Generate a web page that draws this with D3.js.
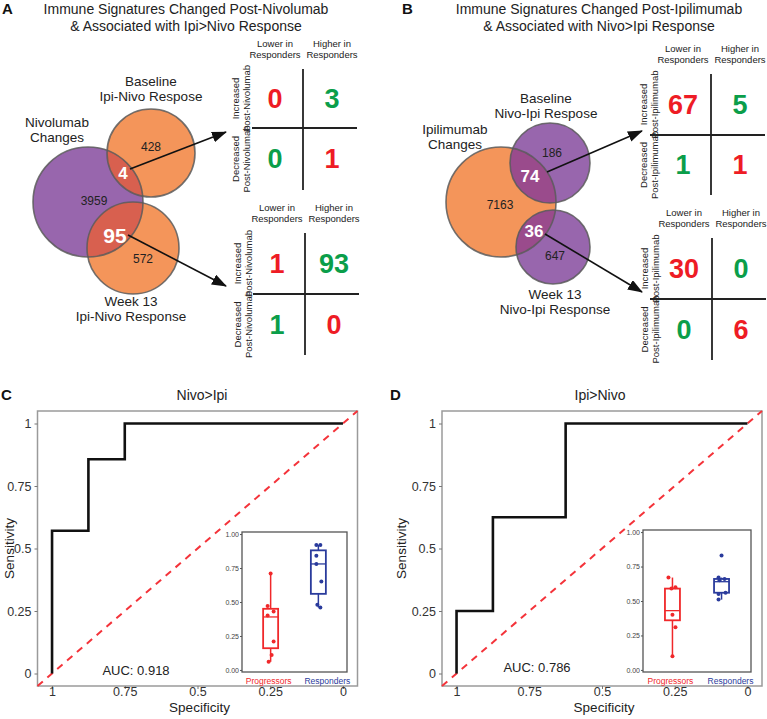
<!DOCTYPE html>
<html>
<head>
<meta charset="utf-8">
<script src="https://cdn.jsdelivr.net/npm/d3@7"></script>
<style>
  body { margin: 0; background: #fff; }
  svg { font-family: "Liberation Sans", Arial, sans-serif; }
</style>
</head>
<body>
<div id="chart"></div>
<script>
// ---------- data ----------
const titleA = ["Immune Signatures Changed Post-Nivolumab", "& Associated with Ipi>Nivo Response"];
const titleB = ["Immune Signatures Changed Post-Ipilimumab", "& Associated with Nivo>Ipi Response"];
const setNamesA = [["Nivolumab", "Changes"], ["Baseline", "Ipi-Nivo Respose"], ["Week 13", "Ipi-Nivo Response"]];
const setNamesB = [["Ipilimumab", "Changes"], ["Baseline", "Nivo-Ipi Respose"], ["Week 13", "Nivo-Ipi Response"]];
// main only, baseline only, baseline overlap, week13 only, week13 overlap
const countsA = [3959, 428, 4, 572, 95];
const countsB = [7163, 186, 74, 647, 36];

const colHeads = [["Lower in", "Responders"], ["Higher in", "Responders"]];
const rowHeadsA = [["Increased", "Post-Nivolumab"], ["Decreased", "Post-Nivolumab"]];
const rowHeadsB = [["Increased", "Post-Ipilimumab"], ["Decreased", "Post-Ipilimumab"]];
const tableA1 = [[0, 3], [0, 1]];
const tableA2 = [[1, 93], [1, 0]];
const tableB1 = [[67, 5], [1, 1]];
const tableB2 = [[30, 0], [0, 6]];

const rocTicks = [1, 0.75, 0.5, 0.25, 0];
const rocSpecC = [1, 1, 0.875, 0.875, 0.75, 0.75, 0];
const rocSensC = [0, 0.571, 0.571, 0.857, 0.857, 1, 1];
const rocSpecD = [1, 1, 0.875, 0.875, 0.625, 0.625, 0];
const rocSensD = [0, 0.25, 0.25, 0.625, 0.625, 1, 1];
const aucC = 0.918, aucD = 0.786;

const groups = ["Progressors", "Responders"];
const insetTicks = [0, 0.25, 0.5, 0.75, 1];
const progC = [0.71, 0.47, 0.43, 0.40, 0.21, 0.11, 0.06];
const respC = [0.92, 0.92, 0.84, 0.78, 0.65, 0.48, 0.46];
const progD = [0.67, 0.60, 0.59, 0.40, 0.31, 0.10];
const respD = [0.83, 0.67, 0.66, 0.65, 0.56, 0.55, 0.51];
// whisker low, q1, median, q3, whisker high
const boxProgC = [0.06, 0.16, 0.39, 0.45, 0.71];
const boxRespC = [0.46, 0.56, 0.78, 0.88, 0.92];
const boxProgD = [0.10, 0.36, 0.43, 0.59, 0.67];
const boxRespD = [0.51, 0.56, 0.64, 0.66, 0.67];

// ---------- setup ----------
const width = 767, height = 719;
const svg = d3.select("#chart").append("svg")
  .attr("width", width).attr("height", height)
  .attr("viewBox", [0, 0, width, height]);

const red = "#ee1c25", green = "#0b9e4a";
const boxRed = "#f0282a", boxBlue = "#2a3b9c";

svg.append("defs").append("marker")
  .attr("id", "arrow")
  .attr("markerUnits", "userSpaceOnUse")
  .attr("markerWidth", 15).attr("markerHeight", 11)
  .attr("refX", 14).attr("refY", 5.5)
  .attr("orient", "auto")
  .append("path").attr("d", "M0,0L15,5.5L0,11z").attr("fill", "#111");

function panelLetter(txt, x, y) {
  svg.append("text").attr("x", x).attr("y", y)
    .attr("font-size", 15).attr("font-weight", "bold").attr("fill", "#111")
    .text(txt);
}

function lines(g, arr, x, y, dy, size, anchor) {
  const t = g.append("text").attr("x", x).attr("y", y)
    .attr("font-size", size).attr("text-anchor", anchor || "middle").attr("fill", "#222");
  arr.forEach((s, i) => t.append("tspan").attr("x", x).attr("dy", i ? dy : 0).text(s));
  return t;
}

// ---------- venn ----------
function venn(cfg) {
  const g = svg.append("g");
  const [m, t, b] = cfg.circles;
  [t, b].forEach((c, i) => {
    svg.select("defs").append("clipPath").attr("id", cfg.id + "clip" + i)
      .append("circle").attr("cx", c.x).attr("cy", c.y).attr("r", c.r);
  });
  g.append("circle").attr("cx", m.x).attr("cy", m.y).attr("r", m.r).attr("fill", cfg.mainColor);
  g.selectAll(".small").data([t, b]).join("circle")
    .attr("cx", d => d.x).attr("cy", d => d.y).attr("r", d => d.r).attr("fill", cfg.smallColor);
  [0, 1].forEach(i => {
    g.append("circle").attr("cx", m.x).attr("cy", m.y).attr("r", m.r)
      .attr("fill", cfg.overlapColor).attr("clip-path", `url(#${cfg.id}clip${i})`);
  });
  g.selectAll(".ring").data([m, t, b]).join("circle")
    .attr("cx", d => d.x).attr("cy", d => d.y).attr("r", d => d.r)
    .attr("fill", "none").attr("stroke", "#5a5a5a").attr("stroke-opacity", 0.85).attr("stroke-width", 1.6);

  cfg.names.forEach((n, i) => lines(g, n, cfg.namePos[i][0], cfg.namePos[i][1], 15, 13.5));

  cfg.counts.forEach((v, i) => {
    const p = cfg.countPos[i];
    const big = i === 2 || i === 4;
    g.append("text").attr("x", p[0]).attr("y", p[1])
      .attr("text-anchor", "middle").attr("dominant-baseline", "central")
      .attr("font-size", big ? p[2] : 12)
      .attr("font-weight", big ? "bold" : "normal")
      .attr("fill", big ? "#fff" : "#222")
      .text(v);
  });

  cfg.arrows.forEach(a => {
    g.append("line").attr("x1", a[0]).attr("y1", a[1]).attr("x2", a[2]).attr("y2", a[3])
      .attr("stroke", "#111").attr("stroke-width", 1.6).attr("marker-end", "url(#arrow)");
  });
}

// ---------- 2x2 table ----------
function table(cfg) {
  const g = svg.append("g");
  const rows = [(cfg.top + cfg.mid) / 2, (cfg.mid + cfg.bottom) / 2];
  const cols = [cfg.vx - 28, cfg.vx + 29];
  g.append("line").attr("x1", cfg.vx).attr("x2", cfg.vx).attr("y1", cfg.top).attr("y2", cfg.bottom)
    .attr("stroke", "#222").attr("stroke-width", 1.8);
  g.append("line").attr("x1", cfg.left).attr("x2", cfg.vx + 54).attr("y1", cfg.mid).attr("y2", cfg.mid)
    .attr("stroke", "#222").attr("stroke-width", 1.8);
  colHeads.forEach((h, j) => lines(g, h, cols[j], cfg.top - 22, 11, 9.5));
  cfg.rowHeads.forEach((h, i) => {
    const t = g.append("text").attr("transform", `translate(${cfg.vx - 67},${rows[i]}) rotate(-90)`)
      .attr("font-size", 9.5).attr("text-anchor", "middle").attr("fill", "#222");
    h.forEach((s, k) => t.append("tspan").attr("x", 0).attr("y", k * 10.5 + 3).text(s));
  });
  cfg.values.forEach((r, i) => r.forEach((v, j) => {
    g.append("text").attr("x", cols[j]).attr("y", rows[i])
      .attr("text-anchor", "middle").attr("dominant-baseline", "central")
      .attr("font-size", 27).attr("font-weight", "bold")
      .attr("fill", (i + j) % 2 === 1 ? green : red)
      .text(v);
  }));
}

// ---------- ROC ----------
function roc(cfg) {
  const g = svg.append("g");
  const x = d3.scaleLinear().domain([1.05, -0.05]).range([cfg.left, cfg.right]);
  const y = d3.scaleLinear().domain([-0.05, 1.05]).range([cfg.bottom, cfg.top]);

  g.append("rect").attr("x", cfg.left).attr("y", cfg.top)
    .attr("width", cfg.right - cfg.left).attr("height", cfg.bottom - cfg.top)
    .attr("fill", "none").attr("stroke", "#9a9a9a").attr("stroke-width", 1.5);

  const xAxis = g.append("g").attr("transform", `translate(0,${cfg.bottom})`)
    .call(d3.axisBottom(x).tickValues(rocTicks).tickSize(3).tickFormat(d3.format("")));
  const yAxis = g.append("g").attr("transform", `translate(${cfg.left},0)`)
    .call(d3.axisLeft(y).tickValues(rocTicks).tickSize(3).tickFormat(d3.format("")));
  [xAxis, yAxis].forEach(a => {
    a.select(".domain").remove();
    a.selectAll(".tick line").attr("stroke", "#777");
    a.selectAll(".tick text").attr("font-size", 12.5).attr("fill", "#333");
  });
  xAxis.selectAll(".tick text").attr("y", 10).attr("dy", 0);

  g.append("text").attr("x", (cfg.left + cfg.right) / 2 + 2).attr("y", cfg.bottom + 26)
    .attr("text-anchor", "middle").attr("font-size", 13.5).attr("fill", "#222").text("Specificity");
  g.append("text")
    .attr("transform", `translate(${cfg.ylabX},${(cfg.top + cfg.bottom) / 2}) rotate(-90)`)
    .attr("text-anchor", "middle").attr("font-size", 13.5).attr("fill", "#222").text("Sensitivity");
  g.append("text").attr("x", cfg.titleX).attr("y", cfg.top - 11)
    .attr("text-anchor", "middle").attr("font-size", 14).attr("fill", "#222").text(cfg.title);

  g.append("line")
    .attr("x1", x(1.05)).attr("y1", y(-0.05)).attr("x2", x(-0.05)).attr("y2", y(1.05))
    .attr("stroke", "#f4333a").attr("stroke-width", 2).attr("stroke-dasharray", "7,6");

  const pts = cfg.spec.map((s, i) => [s, cfg.sens[i]]);
  g.append("path").datum(pts)
    .attr("d", d3.line().x(d => x(d[0])).y(d => y(d[1])))
    .attr("fill", "none").attr("stroke", "#111").attr("stroke-width", 2.6);

  g.append("text").attr("x", cfg.aucX).attr("y", cfg.aucY)
    .attr("text-anchor", "middle").attr("font-size", 13).attr("fill", "#222")
    .text("AUC: " + cfg.auc);

  inset(cfg.inset);
}

function inset(cfg) {
  const g = svg.append("g");
  const x = d3.scalePoint().domain(groups).range([cfg.left, cfg.right]).padding(0.6);
  const y = d3.scaleLinear().domain([-0.015, 1.015]).range([cfg.bottom, cfg.top]);
  g.append("rect").attr("x", cfg.left).attr("y", cfg.top)
    .attr("width", cfg.right - cfg.left).attr("height", cfg.bottom - cfg.top)
    .attr("fill", "#fff").attr("stroke", "#555").attr("stroke-width", 1.3);
  const ya = g.append("g").attr("transform", `translate(${cfg.left},0)`)
    .call(d3.axisLeft(y).tickValues(insetTicks).tickSize(2).tickFormat(d3.format(".2f")));
  ya.select(".domain").remove();
  ya.selectAll(".tick line").attr("stroke", "#555");
  ya.selectAll(".tick text").attr("font-size", 7).attr("fill", "#444").attr("x", -3);

  const colors = [boxRed, boxBlue];
  const labelShift = [-2, 9];
  const bw = 15;
  cfg.boxes.forEach((b, i) => {
    const cx = x(groups[i]);
    const c = colors[i];
    g.append("line").attr("x1", cx).attr("x2", cx).attr("y1", y(b[0])).attr("y2", y(b[1]))
      .attr("stroke", c).attr("stroke-width", 1.5);
    g.append("line").attr("x1", cx).attr("x2", cx).attr("y1", y(b[3])).attr("y2", y(b[4]))
      .attr("stroke", c).attr("stroke-width", 1.5);
    g.append("rect").attr("x", cx - bw / 2).attr("y", y(b[3]))
      .attr("width", bw).attr("height", y(b[1]) - y(b[3]))
      .attr("fill", "#fff").attr("stroke", c).attr("stroke-width", 1.8);
    g.append("line").attr("x1", cx - bw / 2).attr("x2", cx + bw / 2).attr("y1", y(b[2])).attr("y2", y(b[2]))
      .attr("stroke", c).attr("stroke-width", 1.3);
    g.selectAll(null).data(cfg.points[i]).join("circle")
      .attr("cx", (d, k) => cx + cfg.jitter[i][k])
      .attr("cy", d => y(d))
      .attr("r", 2)
      .attr("fill", c);
    g.append("text").attr("x", cx + labelShift[i]).attr("y", cfg.bottom + 12)
      .attr("text-anchor", "middle").attr("font-size", 8.5).attr("fill", c).text(groups[i]);
  });
}

// ---------- panel A ----------
panelLetter("A", 2, 14);
lines(svg, titleA, 186, 14, 17, 14);
venn({
  id: "a",
  circles: [{ x: 88, y: 202, r: 55 }, { x: 151, y: 153, r: 44 }, { x: 133, y: 248, r: 46 }],
  mainColor: "#9866ad", smallColor: "#f4955a", overlapColor: "#d8604f",
  names: setNamesA,
  namePos: [[57, 127], [151, 86], [131, 306]],
  counts: countsA,
  countPos: [[94, 201], [151, 147], [123, 173, 17], [143, 259], [115, 235, 21]],
  arrows: [[130, 169, 226, 132], [128, 235, 226, 286]]
});
table({ vx: 303, top: 69, mid: 128, bottom: 190, left: 252, rowHeads: rowHeadsA, values: tableA1 });
table({ vx: 305, top: 233, mid: 294, bottom: 355, left: 253, rowHeads: rowHeadsA, values: tableA2 });

// ---------- panel B ----------
panelLetter("B", 402, 14);
lines(svg, titleB, 599, 14, 17, 14);
venn({
  id: "b",
  circles: [{ x: 501, y: 202, r: 55 }, { x: 550, y: 163, r: 40 }, { x: 553, y: 247, r: 37 }],
  mainColor: "#f4955a", smallColor: "#9866ad", overlapColor: "#9a4b8c",
  names: setNamesB,
  namePos: [[455, 134], [546, 103], [555, 299]],
  counts: countsB,
  countPos: [[500, 205], [552, 153], [530, 176, 17], [555, 256], [534, 231, 17]],
  arrows: [[547, 172, 642, 131], [545, 234, 642, 292]]
});
table({ vx: 711, top: 74, mid: 135, bottom: 195, left: 650, rowHeads: rowHeadsB, values: tableB1 });
table({ vx: 712, top: 238, mid: 299, bottom: 360, left: 650, rowHeads: rowHeadsB, values: tableB2 });

// ---------- panels C, D ----------
panelLetter("C", 1, 400);
roc({
  left: 37.5, right: 357.5, top: 411, bottom: 686, ylabX: 14, titleX: 202,
  title: "Nivo>Ipi", spec: rocSpecC, sens: rocSensC, auc: aucC, aucX: 136, aucY: 675,
  inset: {
    left: 242, right: 347, top: 532, bottom: 672,
    points: [progC, respC], boxes: [boxProgC, boxRespC],
    jitter: [[0, -3, 3, -3, 3, 1, -2], [-2, 2, -2, -2, 3, -1, 2]]
  }
});
panelLetter("D", 390, 400);
roc({
  left: 442, right: 762, top: 411, bottom: 686, ylabX: 406, titleX: 600,
  title: "Ipi>Nivo", spec: rocSpecD, sens: rocSensD, auc: aucD, aucX: 537, aucY: 672,
  inset: {
    left: 643, right: 751, top: 530, bottom: 672,
    points: [progD, respD], boxes: [boxProgD, boxRespD],
    jitter: [[-4, 3, -1, 0, 3, 0], [0, -3, 3, -2, 4, -3, -3]]
  }
});
</script>
</body>
</html>
